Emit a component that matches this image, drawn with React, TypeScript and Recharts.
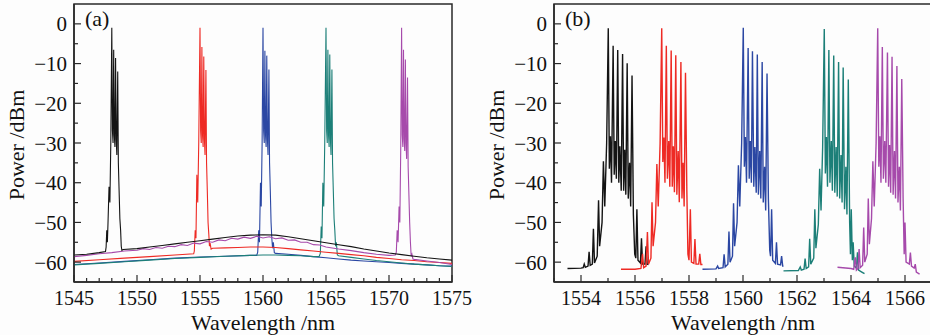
import React from "react";
import { LineChart, Line, XAxis, YAxis, ReferenceArea } from "recharts";

// panel (a): wide scan, five channels
const aBlack: [number, number][] = [
  [1545, -58.2], [1546, -58.0], [1547, -57.6], [1547.5, -57.3], [1547.55, -56.2], [1547.6, -52], [1547.65, -55],
  [1547.7, -50], [1547.78, -41], [1547.85, -45], [1547.92, -30], [1548.0, -1], [1548.05, -27], [1548.1, -30],
  [1548.15, -6.5], [1548.2, -28], [1548.25, -31], [1548.3, -8.6], [1548.35, -29], [1548.4, -33], [1548.47, -12],
  [1548.52, -35], [1548.58, -42], [1548.64, -49], [1548.7, -52], [1548.75, -56], [1548.8, -57], [1548.9, -56.8],
  [1550, -56.6], [1551, -56.2], [1552, -55.8], [1553, -55.4], [1554, -55.0], [1555, -54.6], [1556, -54.2],
  [1557, -53.8], [1558, -53.4], [1559, -53.2], [1560, -53.1], [1561, -53.2], [1562, -53.6], [1563, -54.1],
  [1564, -54.6], [1565, -55.1], [1566, -55.6], [1567, -56.1], [1568, -56.7], [1569, -57.2], [1570, -57.7],
  [1571, -58.1], [1572, -58.5], [1573, -58.9], [1574, -59.2], [1575, -59.5],
];
const aRed: [number, number][] = [
  [1545, -59.8], [1547, -59.4], [1549, -59.0], [1551, -58.6], [1553, -58.2], [1554.5, -57.9], [1554.55, -57.2],
  [1554.62, -52], [1554.68, -54], [1554.75, -38], [1554.82, -45], [1554.9, -30], [1555.0, -1], [1555.05, -27],
  [1555.1, -30], [1555.15, -5.8], [1555.2, -28], [1555.25, -31], [1555.3, -8.2], [1555.35, -29], [1555.4, -33],
  [1555.47, -11.6], [1555.52, -35], [1555.58, -42], [1555.64, -50], [1555.7, -53], [1555.75, -56], [1555.8, -55.2],
  [1555.88, -56.7], [1556, -56.5], [1557, -56.4], [1558, -56.3], [1559, -56.2], [1560, -56.2], [1561, -56.3],
  [1562, -56.6], [1563, -56.9], [1564, -57.2], [1565, -57.5], [1566, -57.8], [1567, -58.1], [1568, -58.4],
  [1569, -58.8], [1570, -59.1], [1571, -59.4], [1572, -59.6], [1573, -59.9], [1574, -60.1], [1575, -60.3],
];
const aBlue: [number, number][] = [
  [1545, -60.6], [1547, -60.2], [1549, -59.8], [1551, -59.4], [1553, -59.0], [1555, -58.7], [1557, -58.5],
  [1559, -58.3], [1559.5, -58.3], [1559.58, -57.5], [1559.66, -52], [1559.72, -55], [1559.8, -40], [1559.86, -46],
  [1559.93, -30], [1560.0, -1], [1560.05, -27], [1560.1, -30], [1560.15, -6.8], [1560.2, -28], [1560.25, -31],
  [1560.3, -8], [1560.35, -29], [1560.4, -33], [1560.47, -11.5], [1560.52, -35], [1560.58, -42], [1560.64, -50],
  [1560.7, -54], [1560.76, -56.5], [1560.82, -55], [1560.9, -57.6], [1561, -57.8], [1562, -58.0], [1563, -58.3],
  [1564, -58.6], [1565, -58.9], [1566, -59.2], [1567, -59.5], [1568, -59.7], [1569, -59.9], [1570, -60.1],
  [1571, -60.3], [1572, -60.5], [1573, -60.7], [1574, -60.9], [1575, -61.0],
];
const aTeal: [number, number][] = [
  [1545, -60.7], [1547, -60.3], [1549, -59.9], [1551, -59.5], [1553, -59.1], [1555, -58.8], [1557, -58.5],
  [1559, -58.3], [1560, -58.2], [1561, -58.2], [1562, -58.3], [1563, -58.4], [1564, -58.6], [1564.45, -58.6],
  [1564.55, -57.8], [1564.62, -51], [1564.68, -54], [1564.75, -40], [1564.82, -46], [1564.9, -30], [1565.0, -1],
  [1565.05, -27], [1565.1, -30], [1565.15, -6.5], [1565.2, -28], [1565.25, -31], [1565.3, -7.7], [1565.35, -29],
  [1565.4, -33], [1565.47, -11.5], [1565.52, -35], [1565.58, -42], [1565.64, -49], [1565.7, -52], [1565.76, -56],
  [1565.82, -55], [1565.9, -58.2], [1566, -58.4], [1567, -58.8], [1568, -59.2], [1569, -59.6], [1570, -59.9],
  [1571, -60.2], [1572, -60.5], [1573, -60.7], [1574, -60.9], [1575, -61.1],
];
const aPurple: [number, number][] = [
  [1545, -58.6], [1546, -58.3], [1547, -57.9], [1548, -57.6], [1549, -57.2], [1550, -57.0], [1550.5, -56.6],
  [1551, -56.8], [1551.5, -56.3], [1552, -56.5], [1552.5, -56.0], [1553, -56.1], [1553.5, -55.6], [1554, -55.8],
  [1554.5, -55.2], [1555, -55.4], [1555.5, -54.8], [1556, -55.0], [1556.5, -54.4], [1557, -54.6], [1557.5, -54.0],
  [1558, -54.2], [1558.5, -53.7], [1559, -54.0], [1559.5, -53.5], [1560, -53.9], [1560.5, -53.6], [1561, -54.1],
  [1561.5, -53.9], [1562, -54.5], [1562.5, -54.4], [1563, -55.0], [1563.5, -55.0], [1564, -55.6], [1564.5, -55.7],
  [1565, -56.2], [1566, -56.7], [1567, -57.1], [1568, -57.6], [1569, -58.0], [1570, -58.3], [1570.5, -58.2],
  [1570.58, -57.5], [1570.65, -52], [1570.72, -55], [1570.8, -46], [1570.86, -50], [1570.93, -32], [1571.0, -1],
  [1571.05, -28], [1571.1, -31], [1571.15, -6.5], [1571.2, -29], [1571.25, -32], [1571.3, -9], [1571.35, -30],
  [1571.4, -34], [1571.47, -13.5], [1571.52, -36], [1571.58, -43], [1571.64, -50], [1571.7, -55], [1571.76, -58.5],
  [1571.82, -58], [1571.9, -59.2], [1572, -59.3], [1573, -59.7], [1574, -60.1], [1575, -60.6],
];

// panel (b): zoomed combs
const bBlack: [number, number][] = [
  [1553.5, -61.6], [1554.0, -61.5], [1554.08, -61.4], [1554.12, -60.5], [1554.16, -61.3], [1554.26, -61.0],
  [1554.3, -57.4], [1554.34, -60.8], [1554.42, -60.5], [1554.46, -51.6], [1554.5, -60.2], [1554.6, -58.5],
  [1554.65, -44.4], [1554.69, -56], [1554.78, -50], [1554.83, -34.6], [1554.88, -46], [1554.95, -30],
  [1555.01, -1.1], [1555.05, -36.5], [1555.09, -28.3], [1555.13, -40], [1555.19, -5.5], [1555.23, -38],
  [1555.27, -29.5], [1555.31, -39], [1555.36, -6.6], [1555.4, -40], [1555.44, -30.8], [1555.49, -42],
  [1555.54, -7.6], [1555.58, -42], [1555.62, -31.7], [1555.66, -43], [1555.71, -9.9], [1555.75, -44],
  [1555.8, -35], [1555.84, -46], [1555.89, -13], [1555.94, -48], [1555.99, -58], [1556.03, -59],
  [1556.07, -46.7], [1556.11, -59.5], [1556.2, -60.2], [1556.24, -54], [1556.28, -60.5], [1556.37, -60.5],
  [1556.41, -56], [1556.45, -60.5], [1556.5, -60.6],
];
const bRed: [number, number][] = [
  [1555.48, -61.8], [1556.0, -61.8], [1556.22, -61.6], [1556.28, -57.9], [1556.32, -61.4], [1556.41, -61],
  [1556.46, -52.4], [1556.5, -60.5], [1556.59, -59], [1556.63, -44.9], [1556.67, -56], [1556.76, -50],
  [1556.81, -35.3], [1556.86, -46], [1556.93, -30], [1556.99, -1.1], [1557.03, -34.8], [1557.07, -28.6],
  [1557.11, -40], [1557.16, -5.5], [1557.2, -39], [1557.25, -29.5], [1557.29, -41], [1557.34, -6.7],
  [1557.38, -41], [1557.42, -30.8], [1557.46, -42.4], [1557.51, -7.9], [1557.55, -43], [1557.6, -32],
  [1557.64, -44.9], [1557.7, -9.6], [1557.74, -44], [1557.78, -35], [1557.82, -46], [1557.87, -12.3],
  [1557.92, -42], [1557.96, -58], [1558.0, -59.5], [1558.05, -46.7], [1558.09, -60], [1558.18, -60.3],
  [1558.22, -54.2], [1558.26, -60.5], [1558.36, -60.5], [1558.4, -57.9], [1558.44, -60.6], [1558.5, -60.6],
];
const bBlue: [number, number][] = [
  [1558.5, -61.8], [1559.0, -61.7], [1559.06, -61.0], [1559.1, -61.6], [1559.26, -61.4], [1559.3, -58],
  [1559.34, -61.2], [1559.44, -60.5], [1559.48, -52.3], [1559.52, -60], [1559.61, -58.5], [1559.65, -45.2],
  [1559.69, -56], [1559.78, -50], [1559.83, -35.6], [1559.88, -46], [1559.95, -30], [1560.01, -1],
  [1560.05, -36], [1560.09, -28.5], [1560.13, -40], [1560.19, -6.1], [1560.23, -39], [1560.27, -29.5],
  [1560.31, -40], [1560.35, -6.9], [1560.4, -41], [1560.44, -31], [1560.49, -42.5], [1560.53, -7.7],
  [1560.57, -43], [1560.62, -32], [1560.66, -44], [1560.71, -9.6], [1560.75, -45], [1560.8, -36],
  [1560.84, -47], [1560.89, -12.5], [1560.94, -44], [1560.99, -57], [1561.02, -58.5], [1561.06, -46.7],
  [1561.1, -59.5], [1561.2, -60.3], [1561.24, -55], [1561.28, -60.5], [1561.39, -60.7], [1561.43, -58.5],
  [1561.47, -61], [1561.5, -61],
];
const bTeal: [number, number][] = [
  [1561.5, -62.2], [1562.05, -62.1], [1562.12, -61.2], [1562.16, -62], [1562.26, -61.8], [1562.3, -59.1],
  [1562.34, -61.6], [1562.43, -61.2], [1562.47, -54.1], [1562.51, -60.5], [1562.62, -59], [1562.66, -46.7],
  [1562.7, -56.5], [1562.79, -50.5], [1562.84, -36.5], [1562.89, -47], [1562.95, -31], [1563.01, -1.3],
  [1563.05, -37.7], [1563.09, -28.5], [1563.13, -41], [1563.18, -6.6], [1563.22, -40], [1563.27, -29.5],
  [1563.31, -42], [1563.36, -8], [1563.4, -42.5], [1563.45, -31], [1563.49, -43.5], [1563.54, -9.6],
  [1563.58, -44], [1563.63, -33], [1563.67, -45], [1563.71, -11], [1563.76, -46.7], [1563.81, -36],
  [1563.85, -48], [1563.9, -14], [1563.95, -50], [1563.98, -58], [1564.01, -46.7], [1564.05, -59.5],
  [1564.08, -55], [1564.12, -61], [1564.2, -61.5], [1564.24, -57.5], [1564.28, -62], [1564.4, -62.5],
  [1564.5, -62.9],
];
const bPurple: [number, number][] = [
  [1563.5, -61.3], [1564.0, -61.6], [1564.1, -61.8], [1564.16, -58.8], [1564.2, -62], [1564.26, -61.6],
  [1564.3, -56.7], [1564.34, -61.4], [1564.43, -60.8], [1564.47, -51.3], [1564.51, -60], [1564.6, -58],
  [1564.64, -44], [1564.68, -55.5], [1564.76, -49], [1564.81, -34.6], [1564.86, -46], [1564.93, -30],
  [1564.99, -1.1], [1565.03, -36], [1565.07, -28.3], [1565.11, -40], [1565.16, -5.8], [1565.2, -39],
  [1565.25, -29.5], [1565.29, -40], [1565.35, -7.2], [1565.39, -41], [1565.43, -30.5], [1565.47, -42.5],
  [1565.52, -8.3], [1565.56, -43], [1565.61, -32], [1565.65, -44], [1565.7, -10.6], [1565.74, -45],
  [1565.79, -36], [1565.83, -47], [1565.88, -13.9], [1565.93, -44], [1565.97, -58], [1566.0, -50],
  [1566.04, -60], [1566.16, -60.5], [1566.2, -57.6], [1566.24, -61], [1566.34, -61.5], [1566.38, -60.5],
  [1566.42, -62.5], [1566.54, -63],
];

const yDomain: [number, number] = [-65, 5];
const yMajor = [-60, -50, -40, -30, -20, -10, 0];
const yTicks = [-60, -55, -50, -45, -40, -35, -30, -25, -20, -15, -10, -5, 0];

const aDomain: [number, number] = [1545, 1575];
const aMajor = [1545, 1550, 1555, 1560, 1565, 1570, 1575];
const aTicks = [
  1545, 1546, 1547, 1548, 1549, 1550, 1551, 1552, 1553, 1554, 1555, 1556, 1557, 1558, 1559, 1560,
  1561, 1562, 1563, 1564, 1565, 1566, 1567, 1568, 1569, 1570, 1571, 1572, 1573, 1574, 1575,
];
const bDomain: [number, number] = [1553, 1567];
const bMajor = [1554, 1556, 1558, 1560, 1562, 1564, 1566];
const bTicks = [1553, 1554, 1555, 1556, 1557, 1558, 1559, 1560, 1561, 1562, 1563, 1564, 1565, 1566, 1567];

const colors = { black: "#141414", red: "#ee2a24", blue: "#2b47a3", teal: "#1c7f78", purple: "#a64aab" };
const FONT = "Liberation Serif, DejaVu Serif, Times New Roman, serif";
const AXIS = "#2a2a2a";
const X_GAP = 9;
const Y_GAP = 7;

const pts = (arr: [number, number][]) => arr.map(([x, y]) => ({ x, y }));

function XTick(props: any) {
  const { x, y, payload, majors } = props;
  const base = y - X_GAP;
  const major = majors.includes(payload.value);
  return (
    <g>
      <line x1={x} x2={x} y1={base} y2={base - (major ? 7 : 4)} stroke={AXIS} strokeWidth={1.2} />
      {major && (
        <text x={x} y={y} dy="0.71em" textAnchor="middle" style={{ fontFamily: FONT, fontSize: 20 }} fill="#111">
          {payload.value}
        </text>
      )}
    </g>
  );
}

function YTick(props: any) {
  const { x, y, payload } = props;
  const base = x + Y_GAP;
  const major = yMajor.includes(payload.value);
  const label = String(payload.value).replace("-", "\u2212");
  return (
    <g>
      <line x1={base} x2={base + (major ? 7 : 4)} y1={y} y2={y} stroke={AXIS} strokeWidth={1.2} />
      {major && (
        <text x={x} y={y} dy="0.36em" textAnchor="end" style={{ fontFamily: FONT, fontSize: 21 }} fill="#111">
          {label}
        </text>
      )}
    </g>
  );
}

type Series = { data: [number, number][]; color: string };

const titleStyle: React.CSSProperties = {
  position: "absolute",
  fontFamily: FONT,
  fontSize: 22,
  color: "#111",
  whiteSpace: "nowrap",
  lineHeight: "20px",
};

function Panel(props: {
  left: number;
  tag: string;
  domain: [number, number];
  ticks: number[];
  majors: number[];
  series: Series[];
  width: number;
}) {
  const { left, tag, domain, ticks, majors, series, width } = props;
  return (
    <div style={{ position: "absolute", left, top: 0, width: 480, height: 335 }}>
      <LineChart width={480} height={335} margin={{ top: 4, right: 28, bottom: 23, left: 14 }}>
        <XAxis
          dataKey="x"
          type="number"
          domain={domain}
          allowDataOverflow
          ticks={ticks}
          interval={0}
          height={30}
          tickSize={0}
          tickMargin={X_GAP}
          tickLine={false}
          axisLine={{ stroke: AXIS, strokeWidth: 1.5 }}
          tick={(p: any) => <XTick {...p} majors={majors} />}
        />
        <YAxis
          type="number"
          domain={yDomain}
          allowDataOverflow
          ticks={yTicks}
          interval={0}
          width={60}
          tickSize={0}
          tickMargin={Y_GAP}
          tickLine={false}
          axisLine={{ stroke: AXIS, strokeWidth: 1.5 }}
          tick={(p: any) => <YTick {...p} />}
        />
        <ReferenceArea
          x1={domain[0]}
          x2={domain[1]}
          y1={yDomain[0]}
          y2={yDomain[1]}
          fill="none"
          stroke={AXIS}
          strokeWidth={1.5}
          ifOverflow="visible"
        />
        {series.map((s, i) => (
          <Line
            key={i}
            data={pts(s.data)}
            dataKey="y"
            type="linear"
            stroke={s.color}
            strokeWidth={width}
            dot={false}
            activeDot={false}
            isAnimationActive={false}
          />
        ))}
      </LineChart>
      <div style={{ ...titleStyle, left: 85, top: 9 }}>{tag}</div>
      <div style={{ ...titleStyle, left: 17, top: 145, transform: "translate(-50%, -50%) rotate(-90deg)" }}>
        Power /dBm
      </div>
      <div style={{ ...titleStyle, left: 263, top: 323, transform: "translate(-50%, -50%)" }}>
        Wavelength /nm
      </div>
    </div>
  );
}

export default function App() {
  const seriesA: Series[] = [
    { data: aBlue, color: colors.blue },
    { data: aTeal, color: colors.teal },
    { data: aRed, color: colors.red },
    { data: aPurple, color: colors.purple },
    { data: aBlack, color: colors.black },
  ];
  const seriesB: Series[] = [
    { data: bBlack, color: colors.black },
    { data: bRed, color: colors.red },
    { data: bBlue, color: colors.blue },
    { data: bTeal, color: colors.teal },
    { data: bPurple, color: colors.purple },
  ];
  return (
    <div
      style={{
        position: "fixed",
        left: 0,
        top: 0,
        width: 930,
        height: 335,
        overflow: "hidden",
        background: "#fdfdfd",
      }}
    >
      <Panel left={0} tag="(a)" domain={aDomain} ticks={aTicks} majors={aMajor} series={seriesA} width={1.1} />
      <Panel left={480} tag="(b)" domain={bDomain} ticks={bTicks} majors={bMajor} series={seriesB} width={1.4} />
    </div>
  );
}
